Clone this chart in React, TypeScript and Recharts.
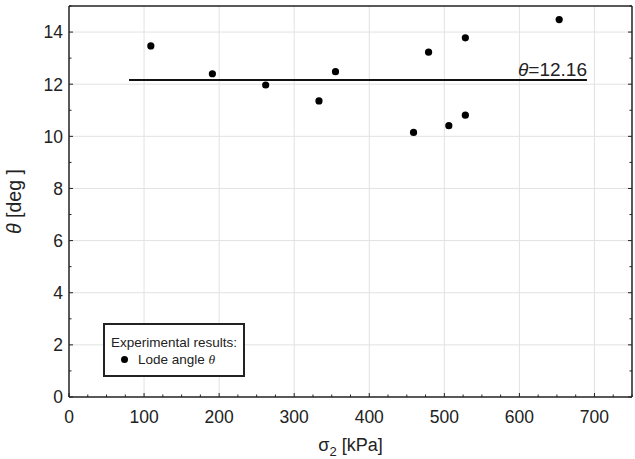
import React from 'react';
import {
  ScatterChart,
  Scatter,
  XAxis,
  YAxis,
  CartesianGrid,
  ReferenceLine,
  Legend,
} from 'recharts';

const sigma2 = [109, 191, 262, 333, 355, 459, 479, 506, 528, 528, 653];
const theta = [13.47, 12.4, 11.97, 11.36, 12.48, 10.15, 13.23, 10.41, 13.78, 10.81, 14.48];

const meanTheta = 12.16;
const meanRange = [80, 690];

const xDomain = [0, 750];
const yDomain = [0, 15];
const xMajor = [0, 100, 200, 300, 400, 500, 600, 700];
const xMinor = Array.from({ length: 31 }, (_, i) => i * 25);
const yMajor = [0, 2, 4, 6, 8, 10, 12, 14];
const yMinor = Array.from({ length: 16 }, (_, i) => i);

const points = sigma2.map((s, i) => ({ x: s, y: theta[i] }));

const FONT = '"Liberation Sans", Arial, sans-serif';
const INK = '#222';

const isMajorX = (v: number) => xMajor.includes(v);
const isMajorY = (v: number) => yMajor.includes(v);

const BottomTick = (props: any) => {
  const { x, y, payload } = props;
  const v = payload.value;
  const major = isMajorX(v);
  return (
    <g>
      <line x1={x} x2={x} y1={y} y2={y - (major ? 4 : 2.5)} stroke={INK} strokeWidth={1} />
      {major && (
        <text x={x} y={y + 26} textAnchor="middle" fontSize={17.5} fill={INK} fontFamily={FONT}>
          {v}
        </text>
      )}
    </g>
  );
};

const TopTick = (props: any) => {
  const { x, y, payload } = props;
  const major = isMajorX(payload.value);
  return <line x1={x} x2={x} y1={y} y2={y + (major ? 4 : 2.5)} stroke={INK} strokeWidth={1} />;
};

const LeftTick = (props: any) => {
  const { x, y, payload } = props;
  const v = payload.value;
  const major = isMajorY(v);
  return (
    <g>
      <line x1={x} x2={x + (major ? 4 : 2.5)} y1={y} y2={y} stroke={INK} strokeWidth={1} />
      {major && (
        <text x={x - 6} y={y} dy="0.36em" textAnchor="end" fontSize={17.5} fill={INK} fontFamily={FONT}>
          {v}
        </text>
      )}
    </g>
  );
};

const RightTick = (props: any) => {
  const { x, y, payload } = props;
  const major = isMajorY(payload.value);
  return <line x1={x} x2={x - (major ? 4 : 2.5)} y1={y} y2={y} stroke={INK} strokeWidth={1} />;
};

const Dot = (props: any) => {
  const { cx, cy } = props;
  return <circle cx={cx} cy={cy} r={3.6} fill="#000" />;
};

const XLabel = (props: any) => {
  const vb = props.viewBox || {};
  const cx = vb.x + vb.width / 2;
  return (
    <text x={cx} y={vb.y + 54} textAnchor="middle" fontSize={18} fill={INK} fontFamily={FONT}>
      <tspan>σ</tspan>
      <tspan dy={5} fontSize={13}>2</tspan>
      <tspan dy={-5}> [kPa]</tspan>
    </text>
  );
};

const YLabel = (props: any) => {
  const vb = props.viewBox || {};
  const x = vb.x + (vb.width || 0) - 48;
  const cy = vb.y + vb.height / 2;
  return (
    <text
      x={x}
      y={cy}
      textAnchor="middle"
      fontSize={19.5}
      fill={INK}
      fontFamily={FONT}
      transform={`rotate(-90, ${x}, ${cy})`}
    >
      <tspan fontStyle="italic">θ</tspan>
      <tspan> [deg ]</tspan>
    </text>
  );
};

const MeanLabel = (props: any) => {
  const vb = props.viewBox || {};
  const right = vb.x + (vb.width || 0);
  return (
    <text x={right} y={vb.y - 4} textAnchor="end" fontSize={19} fill={INK} fontFamily={FONT}>
      <tspan fontStyle="italic">θ</tspan>
      <tspan>={meanTheta}</tspan>
    </text>
  );
};

const LegendBox = () => (
  <div
    style={{
      border: `2px solid ${INK}`,
      width: 138,
      height: 50,
      boxSizing: 'content-box',
      fontFamily: FONT,
      fontSize: 13.5,
      color: INK,
      background: '#fff',
      lineHeight: '17px',
    }}
  >
    <div style={{ marginTop: 9, marginLeft: 6, whiteSpace: 'nowrap' }}>Experimental results:</div>
    <div style={{ display: 'flex', alignItems: 'center', marginLeft: 16 }}>
      <span
        style={{
          display: 'inline-block',
          width: 7,
          height: 7,
          borderRadius: '50%',
          background: '#000',
          marginRight: 10,
        }}
      />
      <span style={{ whiteSpace: 'nowrap' }}>
        Lode angle <i style={{ fontFamily: 'serif' }}>θ</i>
      </span>
    </div>
  </div>
);

export default function App() {
  return (
    <div style={{ position: 'absolute', left: 0, top: 0, width: 635, height: 459, background: '#fff' }}>
      <ScatterChart width={635} height={459} margin={{ top: 5, right: 2, bottom: 61, left: 68 }}>
        <CartesianGrid
          stroke="#e2e2e2"
          strokeWidth={1}
          verticalValues={xMajor.slice(1)}
          horizontalValues={yMajor.slice(1)}
        />
        <XAxis
          type="number"
          dataKey="x"
          domain={xDomain}
          ticks={xMinor}
          interval={0}
          height={1}
          tickSize={0}
          tickMargin={0}
          tickLine={false}
          tick={<BottomTick />}
          axisLine={{ stroke: INK, strokeWidth: 1.5 }}
          allowDataOverflow
          label={<XLabel />}
        />
        <XAxis
          xAxisId="top"
          orientation="top"
          type="number"
          domain={xDomain}
          ticks={xMinor}
          interval={0}
          height={1}
          tickSize={0}
          tickMargin={0}
          tickLine={false}
          tick={<TopTick />}
          axisLine={{ stroke: INK, strokeWidth: 1.5 }}
          allowDataOverflow
        />
        <YAxis
          type="number"
          dataKey="y"
          domain={yDomain}
          ticks={yMinor}
          interval={0}
          width={1}
          tickSize={0}
          tickMargin={0}
          tickLine={false}
          tick={<LeftTick />}
          axisLine={{ stroke: INK, strokeWidth: 1.5 }}
          allowDataOverflow
          label={<YLabel />}
        />
        <YAxis
          yAxisId="right"
          orientation="right"
          type="number"
          domain={yDomain}
          ticks={yMinor}
          interval={0}
          width={1}
          tickSize={0}
          tickMargin={0}
          tickLine={false}
          tick={<RightTick />}
          axisLine={{ stroke: INK, strokeWidth: 1.5 }}
          allowDataOverflow
        />
        <ReferenceLine
          segment={[
            { x: meanRange[0], y: meanTheta },
            { x: meanRange[1], y: meanTheta },
          ]}
          stroke="#111"
          strokeWidth={2}
          label={<MeanLabel />}
        />
        <Scatter data={points} shape={<Dot />} isAnimationActive={false} />
        <Legend
          layout="horizontal"
          verticalAlign="middle"
          align="center"
          content={<LegendBox />}
          wrapperStyle={{ left: 103, top: 323, width: 'auto' }}
        />
      </ScatterChart>
    </div>
  );
}
